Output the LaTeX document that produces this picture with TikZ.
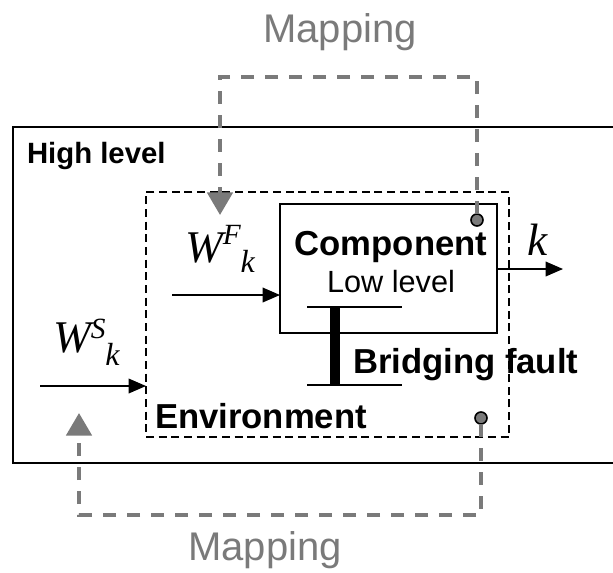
\documentclass[tikz,border=0pt]{standalone}
\usepackage{fontspec}
\setmainfont{Liberation Sans}
\newfontfamily\tnr{Liberation Serif}
\usetikzlibrary{arrows.meta,positioning,calc}
\definecolor{mapgray}{HTML}{7A7A7A}

\begin{document}
\begin{tikzpicture}[x=0.75pt,y=-0.75pt,
  every node/.style={inner sep=0pt,outer sep=0pt},
  box/.style={draw,line width=1pt},
  envbox/.style={draw,line width=1pt,dash pattern=on 6pt off 3.5pt},
  arr/.style={-{Triangle[length=13pt,width=11pt]},line width=1pt},
  map/.style={draw=mapgray,line width=3pt,dash pattern=on 10pt off 8pt},
  maparr/.style={map,-{Triangle[length=17pt,width=19pt]}},
  pin/.style={circle,draw,fill=mapgray,line width=1.2pt,minimum size=9pt},
  lbl/.style={font=\fontsize{26}{30}\selectfont\bfseries},
  maplbl/.style={font=\fontsize{30}{34}\selectfont,text=mapgray},
  sym/.style={font=\tnr\itshape\fontsize{34}{40}\selectfont}
]
\useasboundingbox (0,0) rectangle (613,572);

% boxes
\node[box,minimum width=470.25pt,minimum height=252pt] (hl) at (326.5,295) {};
\node[envbox,minimum width=272.25pt,minimum height=183.75pt] (env) at (327.5,314.5) {};
\node[box,minimum width=162.75pt,minimum height=96.75pt] (comp) at (388.5,268.5) {};

% labels
\node[lbl,font=\fontsize{22}{26}\selectfont\bfseries,anchor=base west] (hltxt) at (27,163) {High level};
\node[lbl,anchor=base] (comptxt) at (391,255) {Component};
\node[anchor=base,font=\fontsize{23}{26}\selectfont] (lowtxt) at (391,292) {Low level};
\node[lbl,anchor=base west] (bftxt) at (353,373) {Bridging fault};
\node[lbl,anchor=base west] (envtxt) at (155,428) {Environment};
\node[maplbl,anchor=base] (map1) at (340,42) {Mapping};
\node[maplbl,anchor=base] (map2) at (265,560) {Mapping};

% signals
\node[sym,anchor=base west] (wf) at (185,262)
  {W\raisebox{13.5pt}{\fontsize{22}{22}\selectfont F}\raisebox{-8pt}{\fontsize{24}{24}\selectfont k}};
\node[sym,anchor=base west] (ws) at (53,352)
  {W\raisebox{10.5pt}{\fontsize{22}{22}\selectfont S}\raisebox{-10pt}{\fontsize{24}{24}\selectfont k}};
\node[sym,anchor=base west] (ktxt) at (527,255) {k};

\coordinate (wfin) at (172,295);
\coordinate (wsin) at (40,386);
\coordinate (kout) at (563,269);
\draw[arr] (wfin) -- (wfin -| comp.west);
\draw[arr] (wsin) -- (wsin -| env.west);
\draw[arr] (comp.east |- kout) -- (kout);

% bridging fault
\coordinate (bt) at (335,307);
\coordinate (bb) at (335,385);
\draw[line width=1pt] ($(bt)+(-28,0)$) -- ($(bt)+(67,0)$);
\draw[line width=1pt] ($(bb)+(-28,0)$) -- ($(bb)+(67,0)$);
\draw[line width=7.5pt] (bt) -- (bb);

% mapping
\node[pin] (pin1) at (477,220) {};
\node[pin] (pin2) at (481,418) {};
\coordinate (mapin1) at (220,215);
\coordinate (mapin2) at (79,413);
\draw[maparr] (pin1) -- (pin1 |- 0,77) -| (mapin1);
\draw[maparr] (pin2) -- (pin2 |- 0,515) -| (mapin2);
\end{tikzpicture}
\end{document}
